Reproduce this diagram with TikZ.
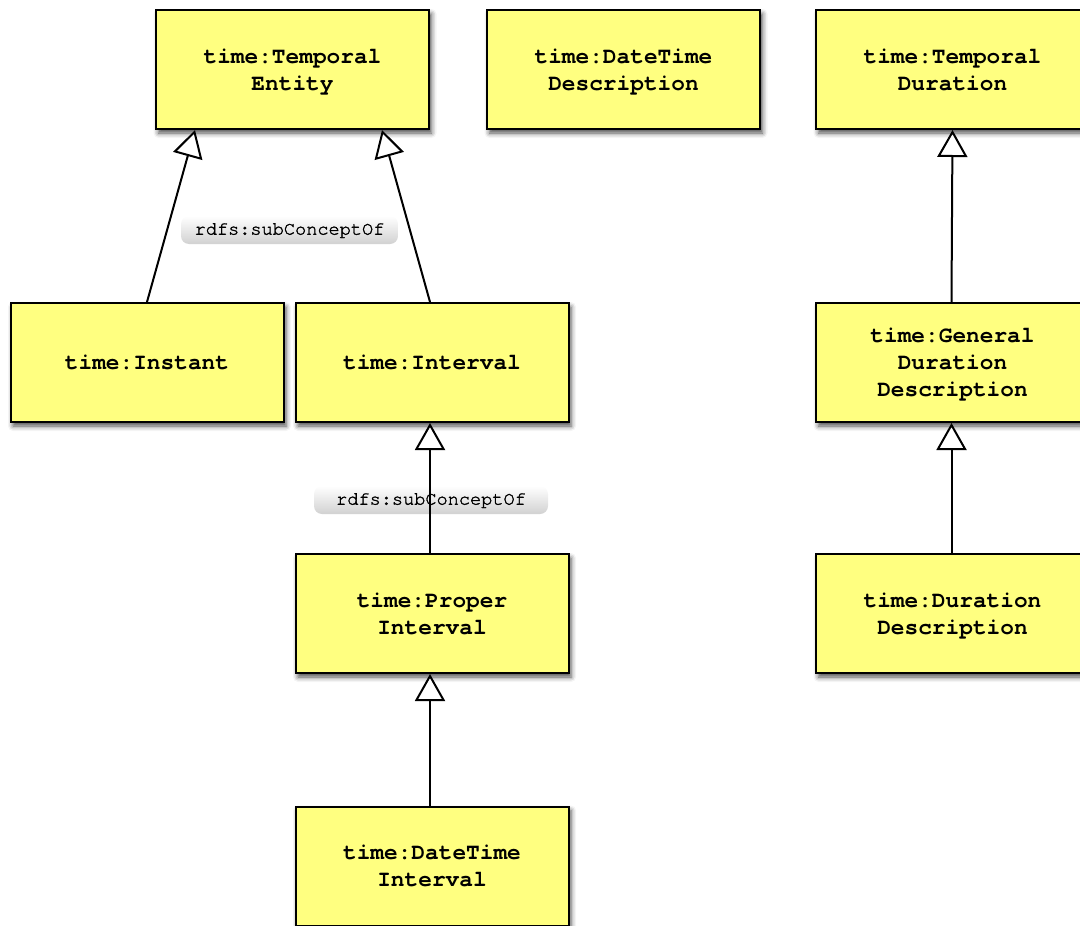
\documentclass[tikz,border=0pt]{standalone}
\usepackage{fontspec}
\setmonofont{TeX Gyre Cursor}
\newfontfamily\relfont{TeX Gyre Cursor}[FakeBold=1.6]
\usetikzlibrary{arrows.meta,calc,shadows.blur}
\definecolor{classyellow}{RGB}{255,255,128}
\tikzset{
  classbox/.style={draw=black, line width=2pt, fill=classyellow,
    minimum width=273pt, minimum height=119pt, inner sep=0pt,
    align=center, font=\ttfamily\bfseries\fontsize{22.8}{27}\selectfont,
    blur shadow={shadow xshift=2.5pt, shadow yshift=-4pt, shadow blur radius=5pt, shadow opacity=70}},
  multiline/.style={text depth=0pt},
  relabel/.style={rounded corners=8pt, top color=white, bottom color=black!18,
    minimum height=28pt, inner sep=0pt, text depth=2pt,
    font=\relfont\fontsize{18.6}{20}\selectfont},
  isa/.style={line width=2pt, -{Triangle[open, length=27pt, width=30pt, fill=white]}}
}
\begin{document}
\begin{tikzpicture}[x=1pt, y=-1pt]
\useasboundingbox (0,0) rectangle (1080,926);
% classes
\node[classbox, multiline] (te)   at (292.5,69.5)  {time:Temporal\\Entity};
\node[classbox, multiline] (dtd)  at (623.5,69.5)  {time:DateTime\\Description};
\node[classbox, multiline] (td)   at (952.5,69.5)  {time:Temporal\\Duration};
\node[classbox]            (inst) at (147,362.5)   {time:Instant};
\node[classbox]            (intv) at (432,362.5)   {time:Interval};
\node[classbox, multiline] (gdd)  at (952.5,362.5) {time:General\\Duration\\Description};
\node[classbox, multiline] (pi)   at (432,613.5)   {time:Proper\\Interval};
\node[classbox, multiline] (dd)   at (952.5,613.5) {time:Duration\\Description};
\node[classbox, multiline] (dti)  at (432,866)     {time:DateTime\\Interval};
% relation labels (links are drawn over them)
\node[relabel, minimum width=217pt] (lab1) at (289.5,230) {rdfs:subConceptOf};
\node[relabel, minimum width=234pt] (lab2) at (431,500) {rdfs:subConceptOf};
% subclass links
\draw[isa] (inst.north) -- ($(te.south west)+(40,0)$);
\draw[isa] ($(intv.north)+(-2,0)$) -- ($(te.south east)+(-48,0)$);
\draw[isa] ($(pi.north)+(-2,0)$) -- ($(intv.south)+(-2,0)$);
\draw[isa] ($(dti.north)+(-2,0)$) -- ($(pi.south)+(-2,0)$);
\draw[isa] ($(gdd.north)+(-1,0)$) -- (td.south);
\draw[isa] ($(dd.north)+(-1,0)$) -- ($(gdd.south)+(-1,0)$);
\end{tikzpicture}
\end{document}
